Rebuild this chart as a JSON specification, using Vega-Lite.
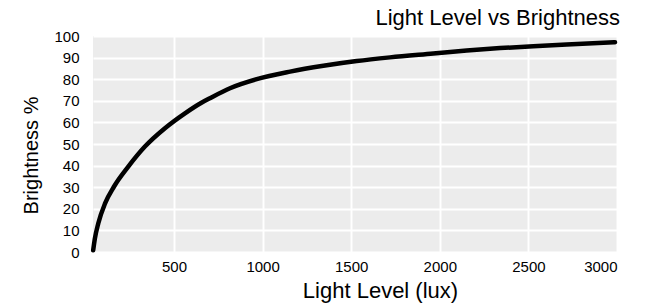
{
  "$schema": "https://vega.github.io/schema/vega-lite/v6.json",
  "autosize": "none",
  "width": 524,
  "height": 216,
  "padding": {"left": 93, "top": 36, "right": 32, "bottom": 54},
  "background": "white",
  "title": {
    "text": "Light Level vs Brightness",
    "anchor": "end",
    "fontSize": 22,
    "font": "Liberation Sans",
    "fontWeight": "normal",
    "color": "black",
    "offset": 4,
    "dy": 5,
    "dx": -4
  },
  "config": {
    "view": {"fill": "#ececec", "stroke": null},
    "axis": {
      "labelFont": "Liberation Sans",
      "titleFont": "Liberation Sans",
      "labelColor": "black",
      "titleColor": "black",
      "labelFontSize": 15,
      "titleFontWeight": "normal",
      "domain": false,
      "ticks": false,
      "tickSize": 0,
      "grid": true,
      "gridColor": "white",
      "gridWidth": 2,
      "gridOpacity": 1
    }
  },
  "data": {
    "values": [
      {"lux": 44, "brightness": 0.8},
      {"lux": 53, "brightness": 6},
      {"lux": 73, "brightness": 13.3},
      {"lux": 111, "brightness": 22.5},
      {"lux": 161, "brightness": 30.2},
      {"lux": 242, "brightness": 39.5},
      {"lux": 336, "brightness": 48.8},
      {"lux": 449, "brightness": 57.3},
      {"lux": 562, "brightness": 64.2},
      {"lux": 655, "brightness": 69.1},
      {"lux": 703, "brightness": 71.2},
      {"lux": 816, "brightness": 75.8},
      {"lux": 967, "brightness": 80.0},
      {"lux": 1155, "brightness": 83.5},
      {"lux": 1343, "brightness": 86.2},
      {"lux": 1531, "brightness": 88.4},
      {"lux": 1719, "brightness": 90.1},
      {"lux": 1963, "brightness": 91.9},
      {"lux": 2152, "brightness": 93.3},
      {"lux": 2340, "brightness": 94.4},
      {"lux": 2528, "brightness": 95.3},
      {"lux": 2716, "brightness": 96.1},
      {"lux": 2989, "brightness": 97.1}
    ]
  },
  "mark": {"type": "line", "color": "black", "strokeWidth": 4.5, "interpolate": "monotone", "strokeCap": "round"},
  "encoding": {
    "x": {
      "field": "lux",
      "type": "quantitative",
      "scale": {"domain": [43, 3000], "nice": false, "zero": false},
      "axis": {
        "values": [500, 1000, 1500, 2000, 2500, 3000],
        "format": "d",
        "title": "Light Level (lux)",
        "titleFontSize": 22,
        "labelPadding": 7,
        "titleX": 287,
        "titleY": 45,
        "titleBaseline": "alphabetic",
        "titleAnchor": "middle",
        "titleAlign": "center"
      }
    },
    "y": {
      "field": "brightness",
      "type": "quantitative",
      "scale": {"domain": [0, 100], "nice": false},
      "axis": {
        "values": [0, 10, 20, 30, 40, 50, 60, 70, 80, 90, 100],
        "title": "Brightness %",
        "titleFontSize": 20,
        "labelPadding": 14,
        "titleX": -56,
        "titleY": 119,
        "titleAngle": -90,
        "titleAlign": "center",
        "titleBaseline": "alphabetic"
      }
    }
  }
}
